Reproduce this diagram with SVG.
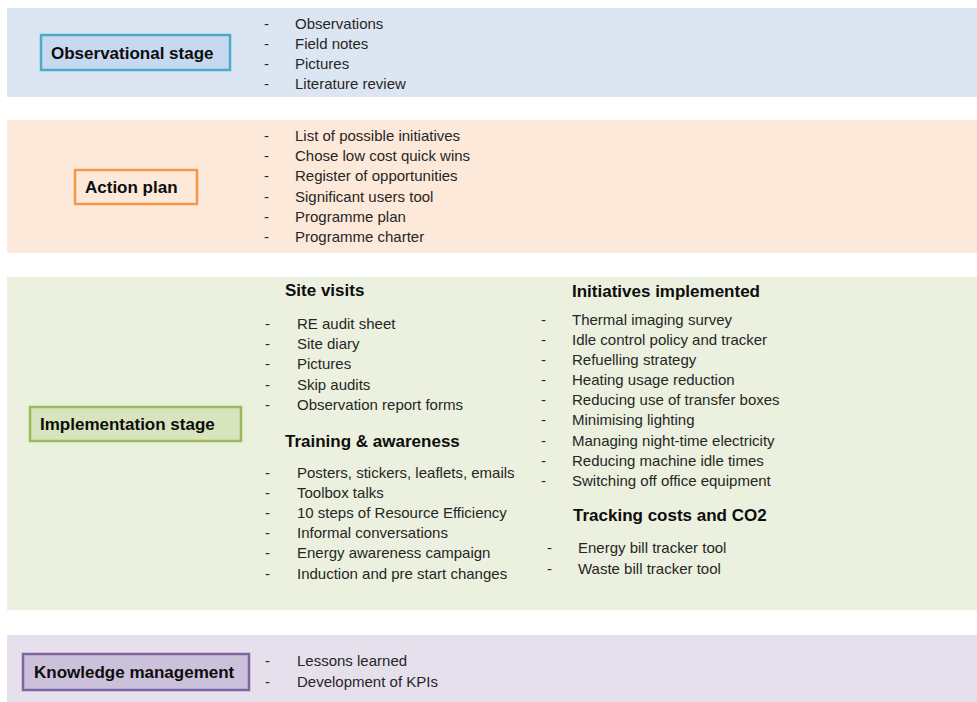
<svg xmlns="http://www.w3.org/2000/svg" width="977" height="702" viewBox="0 0 977 702">
<style>
text{font-family:"Liberation Sans",Arial,sans-serif}
.b{font-size:15px;fill:#262626}
.h{font-size:17px;font-weight:bold;fill:#0d0d0d}
.lbl{font-size:17px;font-weight:bold;fill:#0d0d0d}
</style>
<rect width="977" height="702" fill="#ffffff"/>
<g id="observational">
<rect x="7" y="8" width="970" height="89" fill="#dce6f2"/>
<rect x="41" y="35" width="189" height="35" fill="#c6d9f1" stroke="#4bacc6" stroke-width="2.5"/>
<text class="lbl" x="51" y="59">Observational stage</text>
<g class="b">
<text x="264" y="29">-</text><text x="295" y="29">Observations</text>
<text x="264" y="49">-</text><text x="295" y="49">Field notes</text>
<text x="264" y="69">-</text><text x="295" y="69">Pictures</text>
<text x="264" y="89">-</text><text x="295" y="89">Literature review</text>
</g>
</g>
<g id="action-plan">
<rect x="7" y="120" width="970" height="133" fill="#fde9d9"/>
<rect x="75" y="170" width="122" height="34" fill="#fde9d9" stroke="#f79646" stroke-width="2.5"/>
<text class="lbl" x="85" y="193">Action plan</text>
<g class="b">
<text x="264" y="141">-</text><text x="295" y="141">List of possible initiatives</text>
<text x="264" y="161">-</text><text x="295" y="161">Chose low cost quick wins</text>
<text x="264" y="181">-</text><text x="295" y="181">Register of opportunities</text>
<text x="264" y="202">-</text><text x="295" y="202">Significant users tool</text>
<text x="264" y="222">-</text><text x="295" y="222">Programme plan</text>
<text x="264" y="242">-</text><text x="295" y="242">Programme charter</text>
</g>
</g>
<g id="implementation">
<rect x="7" y="277" width="970" height="333" fill="#ebf1de"/>
<rect x="30" y="407" width="211" height="34" fill="#d7e4bd" stroke="#9bbb59" stroke-width="2.5"/>
<text class="lbl" x="40" y="430">Implementation stage</text>
<text class="h" x="285" y="296">Site visits</text>
<g class="b">
<text x="265" y="329">-</text><text x="297" y="329">RE audit sheet</text>
<text x="265" y="349">-</text><text x="297" y="349">Site diary</text>
<text x="265" y="369">-</text><text x="297" y="369">Pictures</text>
<text x="265" y="390">-</text><text x="297" y="390">Skip audits</text>
<text x="265" y="410">-</text><text x="297" y="410">Observation report forms</text>
</g>
<text class="h" x="285" y="447">Training &amp; awareness</text>
<g class="b">
<text x="265" y="478">-</text><text x="297" y="478">Posters, stickers, leaflets, emails</text>
<text x="265" y="498">-</text><text x="297" y="498">Toolbox talks</text>
<text x="265" y="518">-</text><text x="297" y="518">10 steps of Resource Efficiency</text>
<text x="265" y="538">-</text><text x="297" y="538">Informal conversations</text>
<text x="265" y="558">-</text><text x="297" y="558">Energy awareness campaign</text>
<text x="265" y="579">-</text><text x="297" y="579">Induction and pre start changes</text>
</g>
<text class="h" x="572" y="297">Initiatives implemented</text>
<g class="b">
<text x="541" y="325">-</text><text x="572" y="325">Thermal imaging survey</text>
<text x="541" y="345">-</text><text x="572" y="345">Idle control policy and tracker</text>
<text x="541" y="365">-</text><text x="572" y="365">Refuelling strategy</text>
<text x="541" y="385">-</text><text x="572" y="385">Heating usage reduction</text>
<text x="541" y="405">-</text><text x="572" y="405">Reducing use of transfer boxes</text>
<text x="541" y="425">-</text><text x="572" y="425">Minimising lighting</text>
<text x="541" y="446">-</text><text x="572" y="446">Managing night-time electricity</text>
<text x="541" y="466">-</text><text x="572" y="466">Reducing machine idle times</text>
<text x="541" y="486">-</text><text x="572" y="486">Switching off office equipment</text>
</g>
<text class="h" x="573" y="521">Tracking costs and CO2</text>
<g class="b">
<text x="547" y="553">-</text><text x="578" y="553">Energy bill tracker tool</text>
<text x="547" y="574">-</text><text x="578" y="574">Waste bill tracker tool</text>
</g>
</g>
<g id="knowledge">
<rect x="7" y="635" width="970" height="67" fill="#e5e0ec"/>
<rect x="23" y="654" width="226" height="36" fill="#ccc1da" stroke="#8064a2" stroke-width="2.5"/>
<text class="lbl" x="34" y="678">Knowledge management</text>
<g class="b">
<text x="265" y="666">-</text><text x="297" y="666">Lessons learned</text>
<text x="265" y="687">-</text><text x="297" y="687">Development of KPIs</text>
</g>
</g>
</svg>
